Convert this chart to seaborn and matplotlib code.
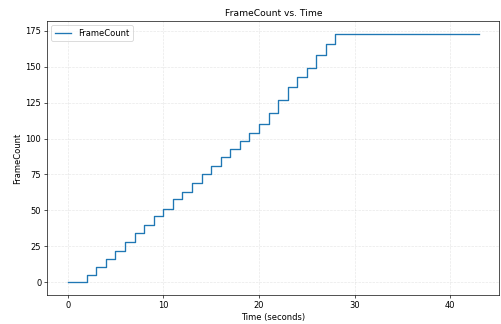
import pandas as pd
import matplotlib
matplotlib.use('Agg')
import matplotlib.pyplot as plt
import seaborn as sns

# Frame count, one sample per second (held until the next one)
time_s = [0, 1, 2, 3, 4, 5, 6, 7, 8, 9, 10, 11, 12, 13, 14, 15, 16, 17, 18, 19,
          20, 21, 22, 23, 24, 25, 26, 27, 28, 43]
frame_count = [0, 0, 5, 11, 16, 22, 28, 34, 40, 46, 51, 58, 63, 69, 75, 81, 87, 93,
               98, 104, 110, 118, 127, 136, 143, 149, 158, 166, 173, 173]

df = pd.DataFrame({'Time': time_s, 'FrameCount': frame_count})

fig, ax = plt.subplots(figsize=(8.35, 5.4), dpi=60)
sns.lineplot(x='Time', y='FrameCount', data=df, ax=ax, drawstyle='steps-post',
             color='#1f77b4', linewidth=1.6, label='FrameCount')

ax.set_title('FrameCount vs. Time', fontsize=11)
ax.set_xlabel('Time (seconds)', fontsize=10)
ax.set_ylabel('FrameCount', fontsize=10)
ax.set_yticks([0, 25, 50, 75, 100, 125, 150, 175])
ax.tick_params(labelsize=10)
ax.grid(True, linestyle='--', alpha=0.3)
ax.legend(loc='upper left', fontsize=10)

plt.subplots_adjust(left=0.094, right=0.997, top=0.935, bottom=0.09)
plt.savefig('out.png', dpi=60)
plt.close()
